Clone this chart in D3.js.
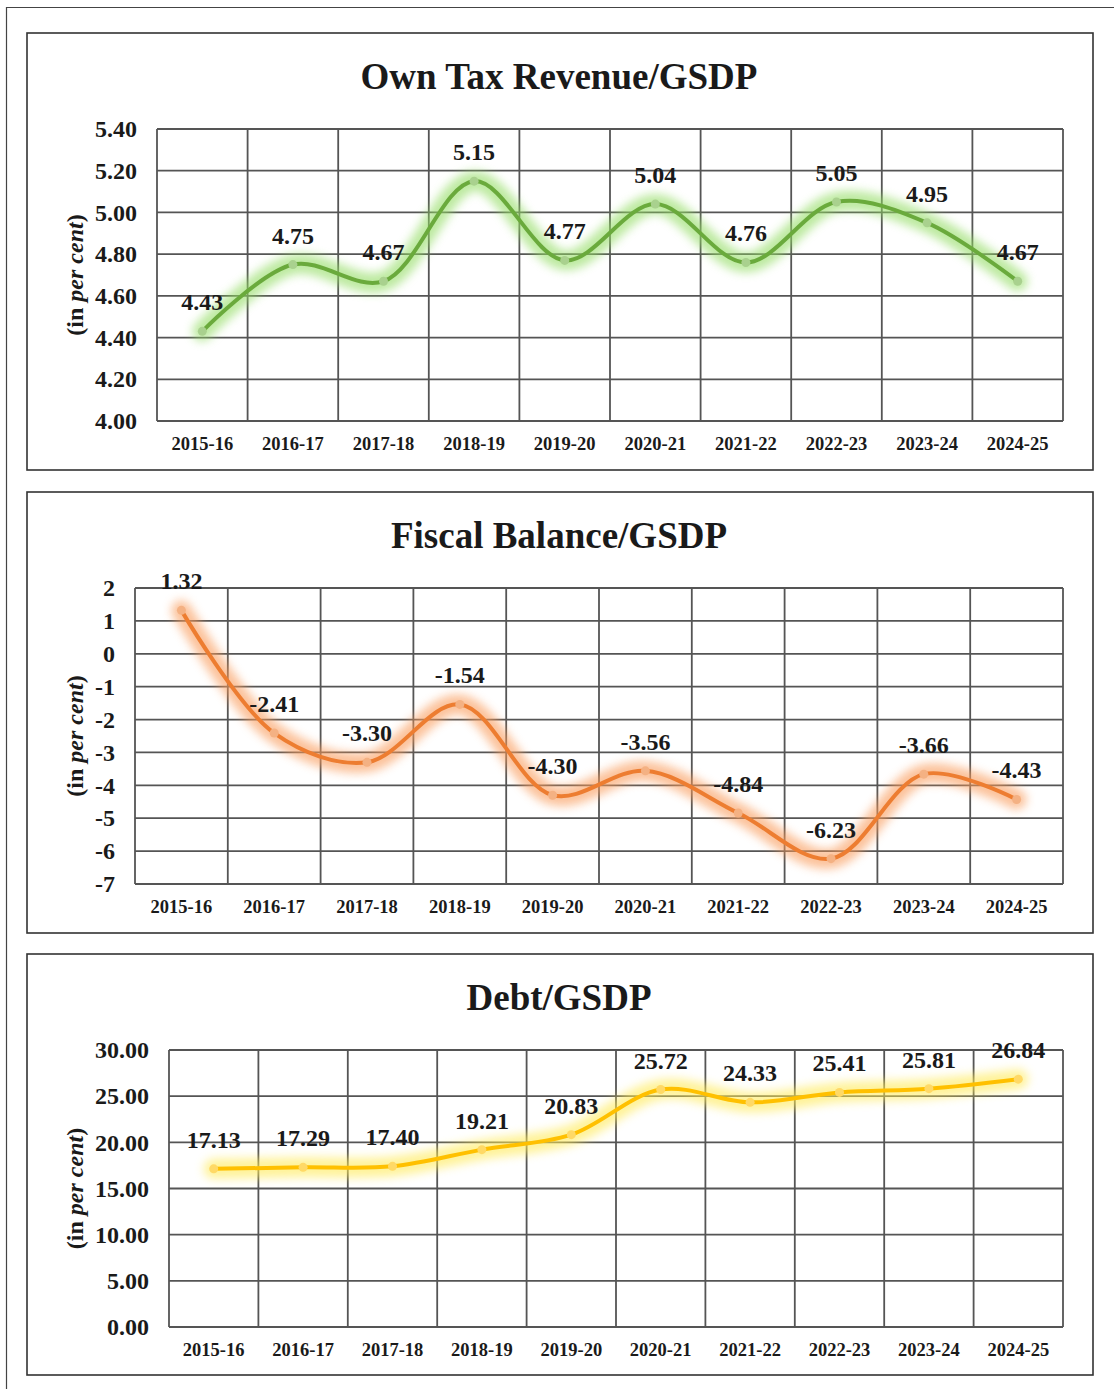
<!DOCTYPE html>
<html><head><meta charset="utf-8">
<script src="https://cdn.jsdelivr.net/npm/d3@7"></script>
<style>body{margin:0;background:#fff}svg{display:block}</style>
</head><body>
<script>
const categories = ['2015-16','2016-17','2017-18','2018-19','2019-20','2020-21','2021-22','2022-23','2023-24','2024-25'];
const ownTaxRevenue = [4.43,4.75,4.67,5.15,4.77,5.04,4.76,5.05,4.95,4.67];
const fiscalBalance = [1.32,-2.41,-3.30,-1.54,-4.30,-3.56,-4.84,-6.23,-3.66,-4.43];
const debt = [17.13,17.29,17.40,19.21,20.83,25.72,24.33,25.41,25.81,26.84];
const otrTicks = [4.00,4.20,4.40,4.60,4.80,5.00,5.20,5.40];
const fbTicks = [-7,-6,-5,-4,-3,-2,-1,0,1,2];
const debtTicks = [0,5,10,15,20,25,30];

const W = 1114, H = 1389;
const svg = d3.select('body').append('svg').attr('width', W).attr('height', H);
const defs = svg.append('defs');
const f = defs.append('filter').attr('id','glow').attr('x','-20%').attr('y','-50%').attr('width','140%').attr('height','200%');
f.append('feGaussianBlur').attr('stdDeviation', 5);

// hyphen-minus formatting as in the original
const fix = s => s.replace('\u2212','-');
const f2 = d => fix(d3.format('.2f')(d));
const f0 = d => fix(d3.format('d')(d));

// outer frame
svg.append('path').attr('d', `M6.5,${H} V7.5 H${W}`).attr('fill','none').attr('stroke','#444').attr('stroke-width',1.2);

const FONT = '"Liberation Serif", "Times New Roman", serif';

const panels = [
  {title:'Own Tax Revenue/GSDP', values:ownTaxRevenue, ticks:otrTicks, fmt:f2,
   box:[27,33,1093,470], plot:[157,129,1063,421], titleY:76,
   color:'#6aaa3c', glowC:'#92dc62', marker:'#a9d18e'},
  {title:'Fiscal Balance/GSDP', values:fiscalBalance, ticks:fbTicks, fmt:f0,
   box:[27,492,1093,933], plot:[135,588,1063,884], titleY:535,
   color:'#ed7d31', glowC:'#f99a58', marker:'#f4b183'},
  {title:'Debt/GSDP', values:debt, ticks:debtTicks, fmt:f2,
   box:[27,954,1093,1375], plot:[169,1050,1063,1327], titleY:997,
   color:'#ffc000', glowC:'#ffea55', marker:'#ffd966'}
];

panels.forEach(p => {
  const g = svg.append('g');
  const [bx0,by0,bx1,by1] = p.box;
  g.append('rect').attr('x',bx0).attr('y',by0).attr('width',bx1-bx0).attr('height',by1-by0)
    .attr('fill','#fff').attr('stroke','#333').attr('stroke-width',1.6);
  g.append('text').attr('x',559).attr('y',p.titleY).attr('text-anchor','middle')
    .attr('dominant-baseline','central').attr('font-family',FONT).attr('font-weight','bold')
    .attr('font-size',37).attr('fill','#1a1a1a').text(p.title);

  const [px0,py0,px1,py1] = p.plot;
  const x = d3.scaleBand().domain(categories).range([px0,px1]);
  const y = d3.scaleLinear().domain([d3.min(p.ticks), d3.max(p.ticks)]).range([py1,py0]);

  // grid
  const grid = g.append('g').attr('stroke','#555').attr('stroke-width',1.8);
  p.ticks.forEach(t => grid.append('line').attr('x1',px0).attr('x2',px1).attr('y1',y(t)).attr('y2',y(t)));
  categories.forEach(c => grid.append('line').attr('x1',x(c)).attr('x2',x(c)).attr('y1',py0).attr('y2',py1));
  grid.append('line').attr('x1',px1).attr('x2',px1).attr('y1',py0).attr('y2',py1);

  // y axis labels
  const ya = g.append('g').attr('transform',`translate(${px0-20},0)`)
    .call(d3.axisLeft(y).tickValues(p.ticks).tickFormat(p.fmt).tickSize(0).tickPadding(0));
  ya.select('.domain').remove();
  ya.selectAll('text').attr('font-family',FONT).attr('font-weight','bold').attr('font-size',24).attr('fill','#1a1a1a');

  // x axis labels
  const xa = g.append('g').attr('transform',`translate(0,${py1+23})`)
    .call(d3.axisBottom(x).tickSize(0).tickPadding(0));
  xa.select('.domain').remove();
  xa.selectAll('text').attr('font-family',FONT).attr('font-weight','bold').attr('font-size',18.5)
    .attr('fill','#1a1a1a').attr('dy','0.35em');

  // y title
  const yt = g.append('text').attr('transform',`translate(75,${(py0+py1)/2}) rotate(-90)`)
    .attr('text-anchor','middle').attr('dominant-baseline','central')
    .attr('font-family',FONT).attr('font-weight','bold').attr('font-size',24).attr('fill','#1a1a1a');
  yt.append('tspan').text('(in ');
  yt.append('tspan').attr('font-style','italic').text('per cent');
  yt.append('tspan').text(')');

  const pts = p.values.map((v,i) => [x(categories[i]) + x.bandwidth()/2, y(v)]);
  const line = d3.line().curve(d3.curveCatmullRom.alpha(0.5));
  g.append('path').attr('d', line(pts)).attr('fill','none').attr('stroke',p.glowC)
    .attr('stroke-width',20).attr('stroke-linecap','round').attr('opacity',0.6).attr('filter','url(#glow)');
  g.append('path').attr('d', line(pts)).attr('fill','none').attr('stroke',p.color).attr('stroke-width',4);
  g.selectAll('circle.m').data(pts).enter().append('circle').attr('cx',d=>d[0]).attr('cy',d=>d[1])
    .attr('r',4.5).attr('fill',p.marker);

  g.selectAll('text.lbl').data(p.values).enter().append('text')
    .attr('x',(d,i)=>pts[i][0]).attr('y',(d,i)=>pts[i][1]-29).attr('text-anchor','middle')
    .attr('dominant-baseline','central').attr('font-family',FONT).attr('font-weight','bold')
    .attr('font-size',24).attr('fill','#1a1a1a').text(d=>f2(d));
});
</script>
</body></html>
